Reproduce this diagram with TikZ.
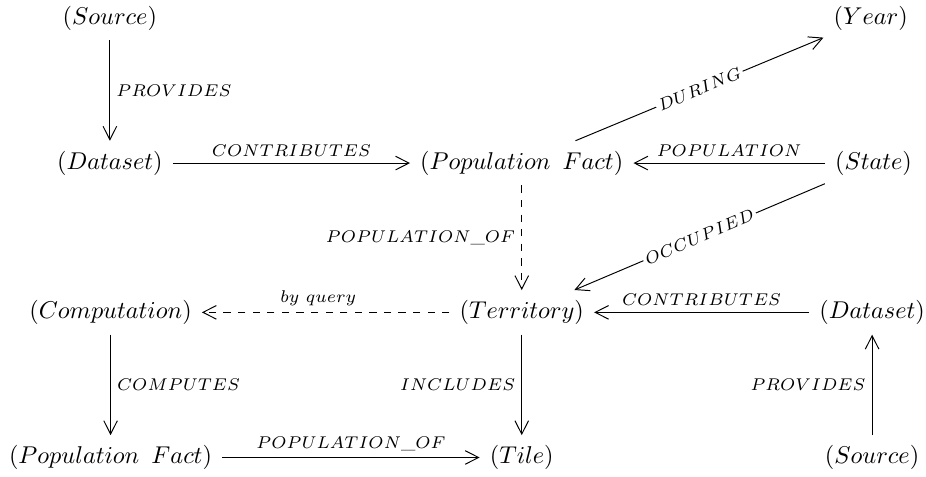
\documentclass[tikz,border=0pt]{standalone}
\usepackage{amsmath,amssymb}
\usepackage{tikz}
\usetikzlibrary{arrows.meta,positioning,calc}

\begin{document}
\begin{tikzpicture}[
    ent/.style={inner sep=4pt},
    rel/.style={font=\scriptsize, inner sep=2.5pt},
    link/.style={-{Straight Barb[length=5.5pt,width=5.6pt]}},
    cut/.style={sloped, fill=white, inner sep=1pt, font=\scriptsize}
  ]
    \useasboundingbox (0,0) rectangle (13.40,-6.90);

    % Top rows
    \node[ent] (src1) at (1.59,-0.26) {$(Source)$};
    \node[ent] (year) at (12.60,-0.26) {$(Year)$};
    \node[ent] (ds1) at (1.59,-2.36) {$(Dataset)$};
    \node[ent] (pf1) at (7.55,-2.36) {$(Population\ \,Fact)$};
    \node[ent] (state) at (12.64,-2.36) {$(State)$};

    % Bottom rows
    \node[ent] (comp) at (1.60,-4.52) {$(Computation)$};
    \node[ent] (terr) at (7.55,-4.52) {$(Territory)$};
    \node[ent] (ds2) at (12.62,-4.52) {$(Dataset)$};
    \node[ent] (pf2) at (1.60,-6.62) {$(Population\ \,Fact)$};
    \node[ent] (tile) at (7.55,-6.62) {$(Tile)$};
    \node[ent] (src2) at (12.62,-6.62) {$(Source)$};

    % Relations
    \draw[link] (src1) -- node[rel, right] {$PROVIDES$} (ds1);
    \draw[link] (ds1) -- node[rel, above] {$CONTRIBUTES$} (pf1);
    \draw[link] (pf1) -- node[cut] {$DURING$} (year);
    \draw[link] (state) -- node[rel, above] {$POPULATION$} (pf1);
    \draw[link] (state) -- node[cut] {$OCCUPIED$} (terr);
    \draw[link, dashed] (pf1) -- node[rel, left] {$POPULATION\_OF$} (terr);
    \draw[link, dashed] (terr) -- node[rel, above, pos=0.53] {$by\ query$} (comp);
    \draw[link] (ds2) -- node[rel, above] {$CONTRIBUTES$} (terr);
    \draw[link] (comp) -- node[rel, right] {$COMPUTES$} (pf2);
    \draw[link] (terr) -- node[rel, left] {$INCLUDES$} (tile);
    \draw[link] (pf2) -- node[rel, above] {$POPULATION\_OF$} (tile);
    \draw[link] (src2) -- node[rel, left] {$PROVIDES$} (ds2);
\end{tikzpicture}
\end{document}
